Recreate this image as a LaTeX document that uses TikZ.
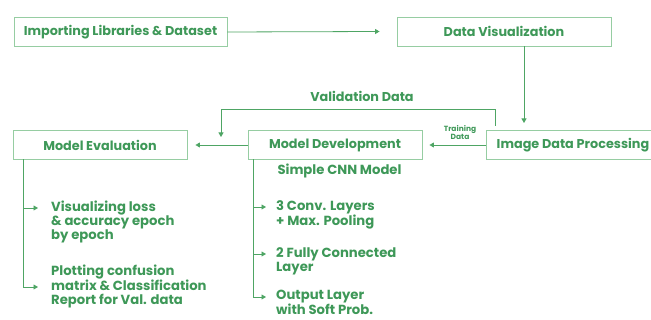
\documentclass[tikz,border=0pt]{standalone}
\usepackage{fontspec}
\setmainfont{Poppins}
\usetikzlibrary{arrows.meta}
\definecolor{gtext}{RGB}{62,152,88}
\definecolor{gbox}{RGB}{150,205,162}
\definecolor{gline}{RGB}{78,165,100}
\tikzset{
  stepbox/.style={draw=gbox, line width=0.9pt, text=gtext, font=\fontsize{12.8}{14}\selectfont\bfseries, inner sep=0pt, minimum height=29pt},
  lbl/.style={text=gtext, font=\fontsize{13.2}{14}\selectfont\bfseries, align=left, inner sep=0pt, anchor=north west},
  conn/.style={draw=gline, line width=0.8pt},
  arr/.style={conn, -{Triangle[length=4.5pt,width=5pt]}},
}
\begin{document}
\begin{tikzpicture}[x=1pt,y=-1pt]
\useasboundingbox (0,0) rectangle (651,320);
\begin{scope}
\clip (0,0) rectangle (651,320);
\node[stepbox, minimum width=213pt] (imp) at (120.5,32) {Importing Libraries \& Dataset};
\node[stepbox, minimum width=214pt] (vis) at (504,31.5) {Data Visualization};
\node[stepbox, minimum width=174pt] (idp) at (573,145) {Image Data Processing};
\node[stepbox, minimum width=174pt] (dev) at (335,145) {Model Development};
\node[stepbox, minimum width=174pt] (eval) at (100,145) {Model Evaluation};
\end{scope}
% labels
\node[text=gtext, font=\fontsize{12.8}{14}\selectfont\bfseries, inner sep=0pt] (vlab) at (362,96) {Validation Data};
\node[text=gtext, font=\fontsize{7.5}{8}\selectfont\bfseries, align=center, inner sep=0pt] (tlab) at (460,133) {Training\\Data};
\node[text=gtext, font=\fontsize{13.2}{14}\selectfont\bfseries, inner sep=0pt] (cnn) at (339.5,171) {Simple CNN Model};
\node[lbl] (e1) at (51,201) {Visualizing loss\\\& accuracy epoch\\by epoch};
\node[lbl] (e2) at (51,265) {Plotting confusion\\matrix \& Classification\\Report for Val. data};
\node[lbl] (d1) at (276,200) {3 Conv. Layers\\+ Max. Pooling};
\node[lbl] (d2) at (276,247) {2 Fully Connected\\Layer};
\node[lbl, font=\fontsize{13.2}{13.5}\selectfont\bfseries] (d3) at (276,290) {Output Layer\\with Soft Prob.};
% coordinates
\coordinate (vd) at (524,123);
\coordinate (vs) at (495,126);
\coordinate (vc) at (221,109);
\coordinate (vt) at (221,137);
\coordinate (eb) at (23,159.5);
\coordinate (ea1) at (38,208);
\coordinate (ea2) at (38,287);
\coordinate (db) at (253,159.5);
\coordinate (da1) at (266,207);
\coordinate (da2) at (266,254);
\coordinate (da3) at (266,297);
% connectors
\draw[arr] (imp.east) -- ([xshift=-17pt]vis.west);
\draw[arr] (vis.south -| vd) -- (vd);
\draw[arr] (idp.west) -- ([xshift=7pt]dev.east);
\draw[arr] (dev.west) -- ([xshift=8pt]eval.east);
\draw[arr] (vs) -- (vs |- vc) -- (vc) -- (vt);
\draw[conn] (eb) -- (eb |- ea2);
\draw[arr] (eb |- ea1) -- (ea1);
\draw[arr] (eb |- ea2) -- (ea2);
\draw[conn] (db) -- (db |- da3);
\draw[arr] (db |- da1) -- (da1);
\draw[arr] (db |- da2) -- (da2);
\draw[arr] (db |- da3) -- (da3);
\end{tikzpicture}
\end{document}
